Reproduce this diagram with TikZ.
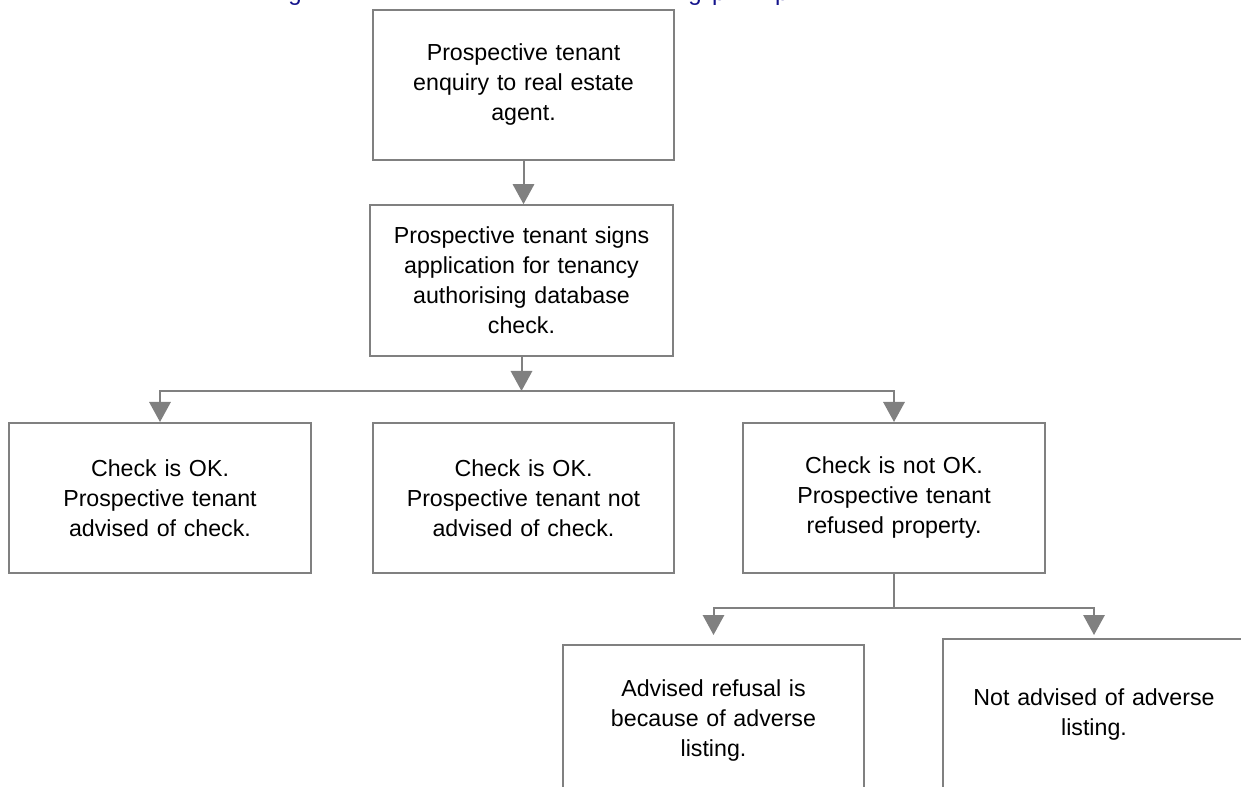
\documentclass[tikz,border=0pt]{standalone}
\usepackage{fontspec}
\setmainfont{Liberation Sans}
\usetikzlibrary{arrows.meta,calc}
\definecolor{linegray}{RGB}{128,128,128}
\definecolor{titleblue}{RGB}{20,20,140}
\begin{document}
\begin{tikzpicture}[x=0.75pt,y=-0.75pt,
  box/.style={draw=linegray, line width=1.5pt, fill=white,
    minimum width=226pt, minimum height=112.5pt, inner sep=0pt,
    text width=218pt, align=center,
    font=\fontsize{17.4}{22.5}\selectfont},
  conn/.style={draw=linegray, line width=1.5pt},
  arr/.style={conn, -{Triangle[width=16pt,length=15pt]}},
  frag/.style={text=titleblue, inner sep=0pt, anchor=base,
    font=\fontsize{18}{22}\selectfont}]
\useasboundingbox (0,0) rectangle (1241,787);
\clip (0,0) rectangle (1241,787);
\fill[white] (0,0) rectangle (1241,787);
% clipped title fragments
\node[frag] (t1) at (295,0.5) {g};
\node[frag] (t2) at (695,0.5) {g};
\node[frag] (t3) at (718.7,0.5) {p};
\node[frag] (t4) at (781.7,0.5) {p};
% boxes
\node[box] (A) at (523.5,85) {Prospective tenant\\enquiry to real estate\\agent.};
\node[box, minimum width=227pt, minimum height=113pt] (B) at (521.5,280.5) {Prospective tenant signs\\application for tenancy\\authorising database\\check.};
\node[box] (C1) at (160,498) {Check is OK.\\Prospective tenant\\advised of check.};
\node[box] (C2) at (523.5,498) {Check is OK.\\Prospective tenant not\\advised of check.};
\node[box] (C3) at (894,498) {Check is not OK.\\Prospective tenant\\refused property.};
\node[box] (D1) at (713.5,720) {Advised refusal is\\because of adverse\\listing.};
\node[box] (D2) at (1094,714) {Not advised of adverse\\listing.};
% connectors
\coordinate (j1) at (521.5,391);
\coordinate (j2) at (894,608);
\draw[arr] (A.south) -- (A.south |- B.north);
\draw[arr] (B.south) -- (j1);
\draw[arr] (j1) -| (C1.north);
\draw[arr] (j1) -| (C3.north);
\draw[conn] (C3.south) -- (j2);
\draw[arr] (j2) -| ($(D1.north)+(0,-9)$);
\draw[arr] (j2) -| ($(D2.north)+(0,-3)$);
\end{tikzpicture}
\end{document}
